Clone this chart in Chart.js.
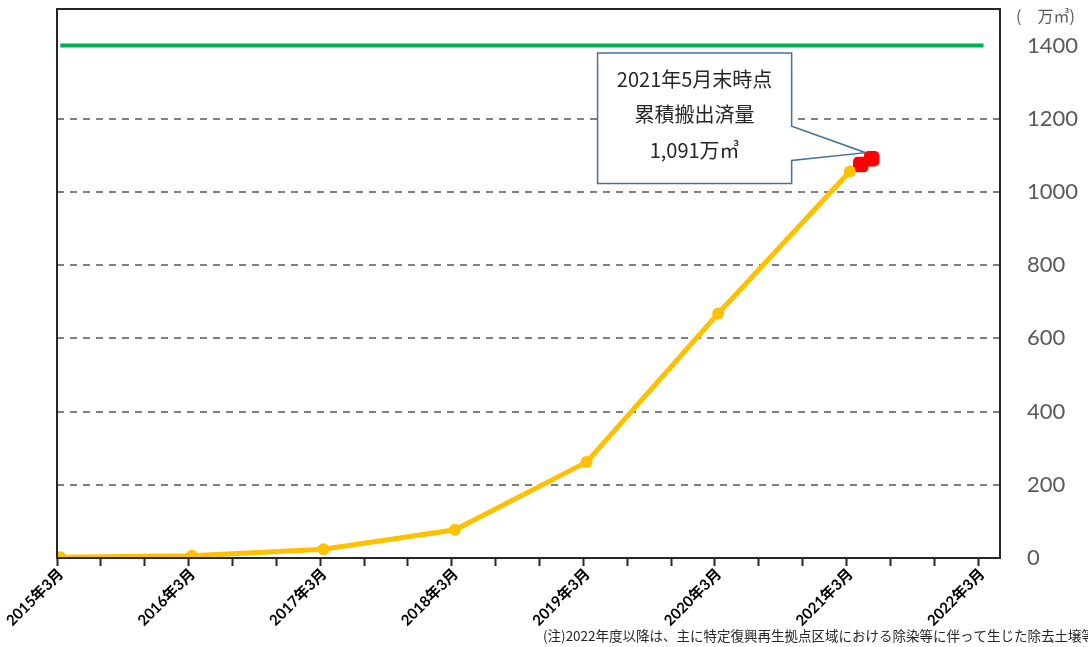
<!DOCTYPE html>
<html>
<head>
<meta charset="utf-8">
<script src="https://cdn.jsdelivr.net/npm/chart.js@4"></script>
<style>
  html, body { margin: 0; padding: 0; background: #fff; }
  #wrap { width: 1088px; height: 647px; }
</style>
</head>
<body>
<div id="wrap"><canvas id="removal"></canvas></div>
<script>
// months counted from 2015年3月 (points sit just after the month tick)
const months = [0.3, 12.3, 24.3, 36.3, 48.3, 60.3, 72.3];
const cumulative = [2, 6, 24, 77, 262, 668, 1056];

const latestMonths = [73.3, 74.3];
const latestValues = [1075, 1091];

const targetMonths = [0.3, 84.5];
const targetValues = [1400, 1400];

const tickLabels = ['2015年3月', '2016年3月', '2017年3月', '2018年3月', '2019年3月', '2020年3月', '2021年3月', '2022年3月'];
const calloutLines = ['2021年5月末時点', '累積搬出済量', '1,091万㎥'];
const unitLabel = '(　万㎥)';
const noteText = '(注)2022年度以降は、主に特定復興再生拠点区域における除染等に伴って生じた除去土壌等を搬出';

const yellow = '#FFC000';
const jp = '"Noto Sans CJK JP", sans-serif';

// 外枠
const frame = {
    id: 'frame',
    afterDraw(chart) {
        const { ctx, chartArea: a } = chart;
        ctx.save();
        ctx.strokeStyle = '#262626';
        ctx.lineWidth = 2;
        ctx.strokeRect(a.left, a.top, a.right - a.left, a.bottom - a.top);
        ctx.restore();
    }
};

// 吹き出し
const callout = {
    id: 'callout',
    beforeDatasetsDraw(chart) {
        const { ctx, scales } = chart;
        const x0 = scales.x.getPixelForValue(49.3), x1 = scales.x.getPixelForValue(67);
        const y0 = scales.y.getPixelForValue(1380), y1 = scales.y.getPixelForValue(1023);
        const p0 = scales.y.getPixelForValue(1180), p1 = scales.y.getPixelForValue(1086);
        const tx = scales.x.getPixelForValue(latestMonths[1]) - 6;
        const ty = scales.y.getPixelForValue(latestValues[1]) - 6;
        ctx.save();
        ctx.beginPath();
        ctx.moveTo(x0, y0);
        ctx.lineTo(x1, y0);
        ctx.lineTo(x1, p0);
        ctx.lineTo(tx, ty);
        ctx.lineTo(x1, p1);
        ctx.lineTo(x1, y1);
        ctx.lineTo(x0, y1);
        ctx.closePath();
        ctx.fillStyle = '#fff';
        ctx.fill();
        ctx.strokeStyle = '#41719C';
        ctx.lineWidth = 1.5;
        ctx.stroke();
        ctx.fillStyle = '#262626';
        ctx.font = '20px ' + jp;
        ctx.textAlign = 'center';
        ctx.textBaseline = 'middle';
        const cx = (x0 + x1) / 2;
        [26, 61, 97].forEach((dy, i) => ctx.fillText(calloutLines[i], cx, y0 + dy));
        ctx.restore();
    }
};

// 単位と注記
const texts = {
    id: 'texts',
    afterDraw(chart) {
        const { ctx } = chart;
        ctx.save();
        ctx.fillStyle = '#595959';
        ctx.font = '16px ' + jp;
        ctx.textBaseline = 'middle';
        ctx.fillText(unitLabel, 1016, 16);
        ctx.fillStyle = '#262626';
        ctx.font = '13.5px ' + jp;
        ctx.fillText(noteText, 543, 636);
        ctx.restore();
    }
};

new Chart(document.getElementById('removal'), {
    type: 'line',
    data: {
        datasets: [
            {
                label: 'target',
                data: targetMonths.map((m, i) => ({ x: m, y: targetValues[i] })),
                borderColor: '#00B050',
                borderWidth: 4,
                pointRadius: 0
            },
            {
                label: 'cumulative',
                data: months.map((m, i) => ({ x: m, y: cumulative[i] })),
                borderColor: yellow,
                backgroundColor: yellow,
                borderWidth: 5,
                pointRadius: 6,
                pointBorderWidth: 0
            },
            {
                label: 'latest',
                data: latestMonths.map((m, i) => ({ x: m, y: latestValues[i] })),
                showLine: false,
                pointStyle: 'rectRounded',
                pointRadius: 9,
                backgroundColor: '#FF0000',
                borderColor: '#FF0000',
                pointBorderWidth: 0
            }
        ]
    },
    options: {
        responsive: true,
        maintainAspectRatio: false,
        animation: false,
        layout: { padding: { left: 57, top: 8, right: 0, bottom: 0 } },
        plugins: {
            legend: { display: false },
            tooltip: { enabled: false }
        },
        scales: {
            x: {
                type: 'linear',
                min: 0,
                max: 86,
                afterFit(scale) {
                    scale.height = 89;
                    scale.paddingLeft = 0;
                    scale.paddingRight = 0;
                },
                ticks: {
                    stepSize: 4,
                    includeBounds: false,
                    autoSkip: false,
                    maxRotation: 45,
                    minRotation: 45,
                    padding: -1,
                    labelOffset: 4,
                    color: '#000',
                    font: { size: 15, weight: 'bold', family: 'Lato, ' + jp },
                    callback: v => (v % 12 === 0 ? tickLabels[v / 12] : '')
                },
                grid: {
                    drawOnChartArea: false,
                    tickLength: 8,
                    tickWidth: 2,
                    color: '#262626'
                },
                border: { display: false }
            },
            y: {
                position: 'right',
                min: 0,
                max: 1500,
                afterFit(scale) {
                    scale.width = 88;
                    scale.paddingTop = 0;
                    scale.paddingBottom = 0;
                },
                ticks: {
                    stepSize: 200,
                    includeBounds: false,
                    padding: 27,
                    color: '#595959',
                    font: { size: 22, family: 'Lato' },
                    callback: v => String(v)
                },
                grid: {
                    drawTicks: false,
                    lineWidth: 2,
                    color: ctx => (ctx.tick && (ctx.tick.value === 0 || ctx.tick.value === 1400) ? 'rgba(0,0,0,0)' : '#7F7F7F')
                },
                border: { display: false, dash: [7, 6] }
            }
        }
    },
    plugins: [callout, frame, texts]
});
</script>
</body>
</html>
